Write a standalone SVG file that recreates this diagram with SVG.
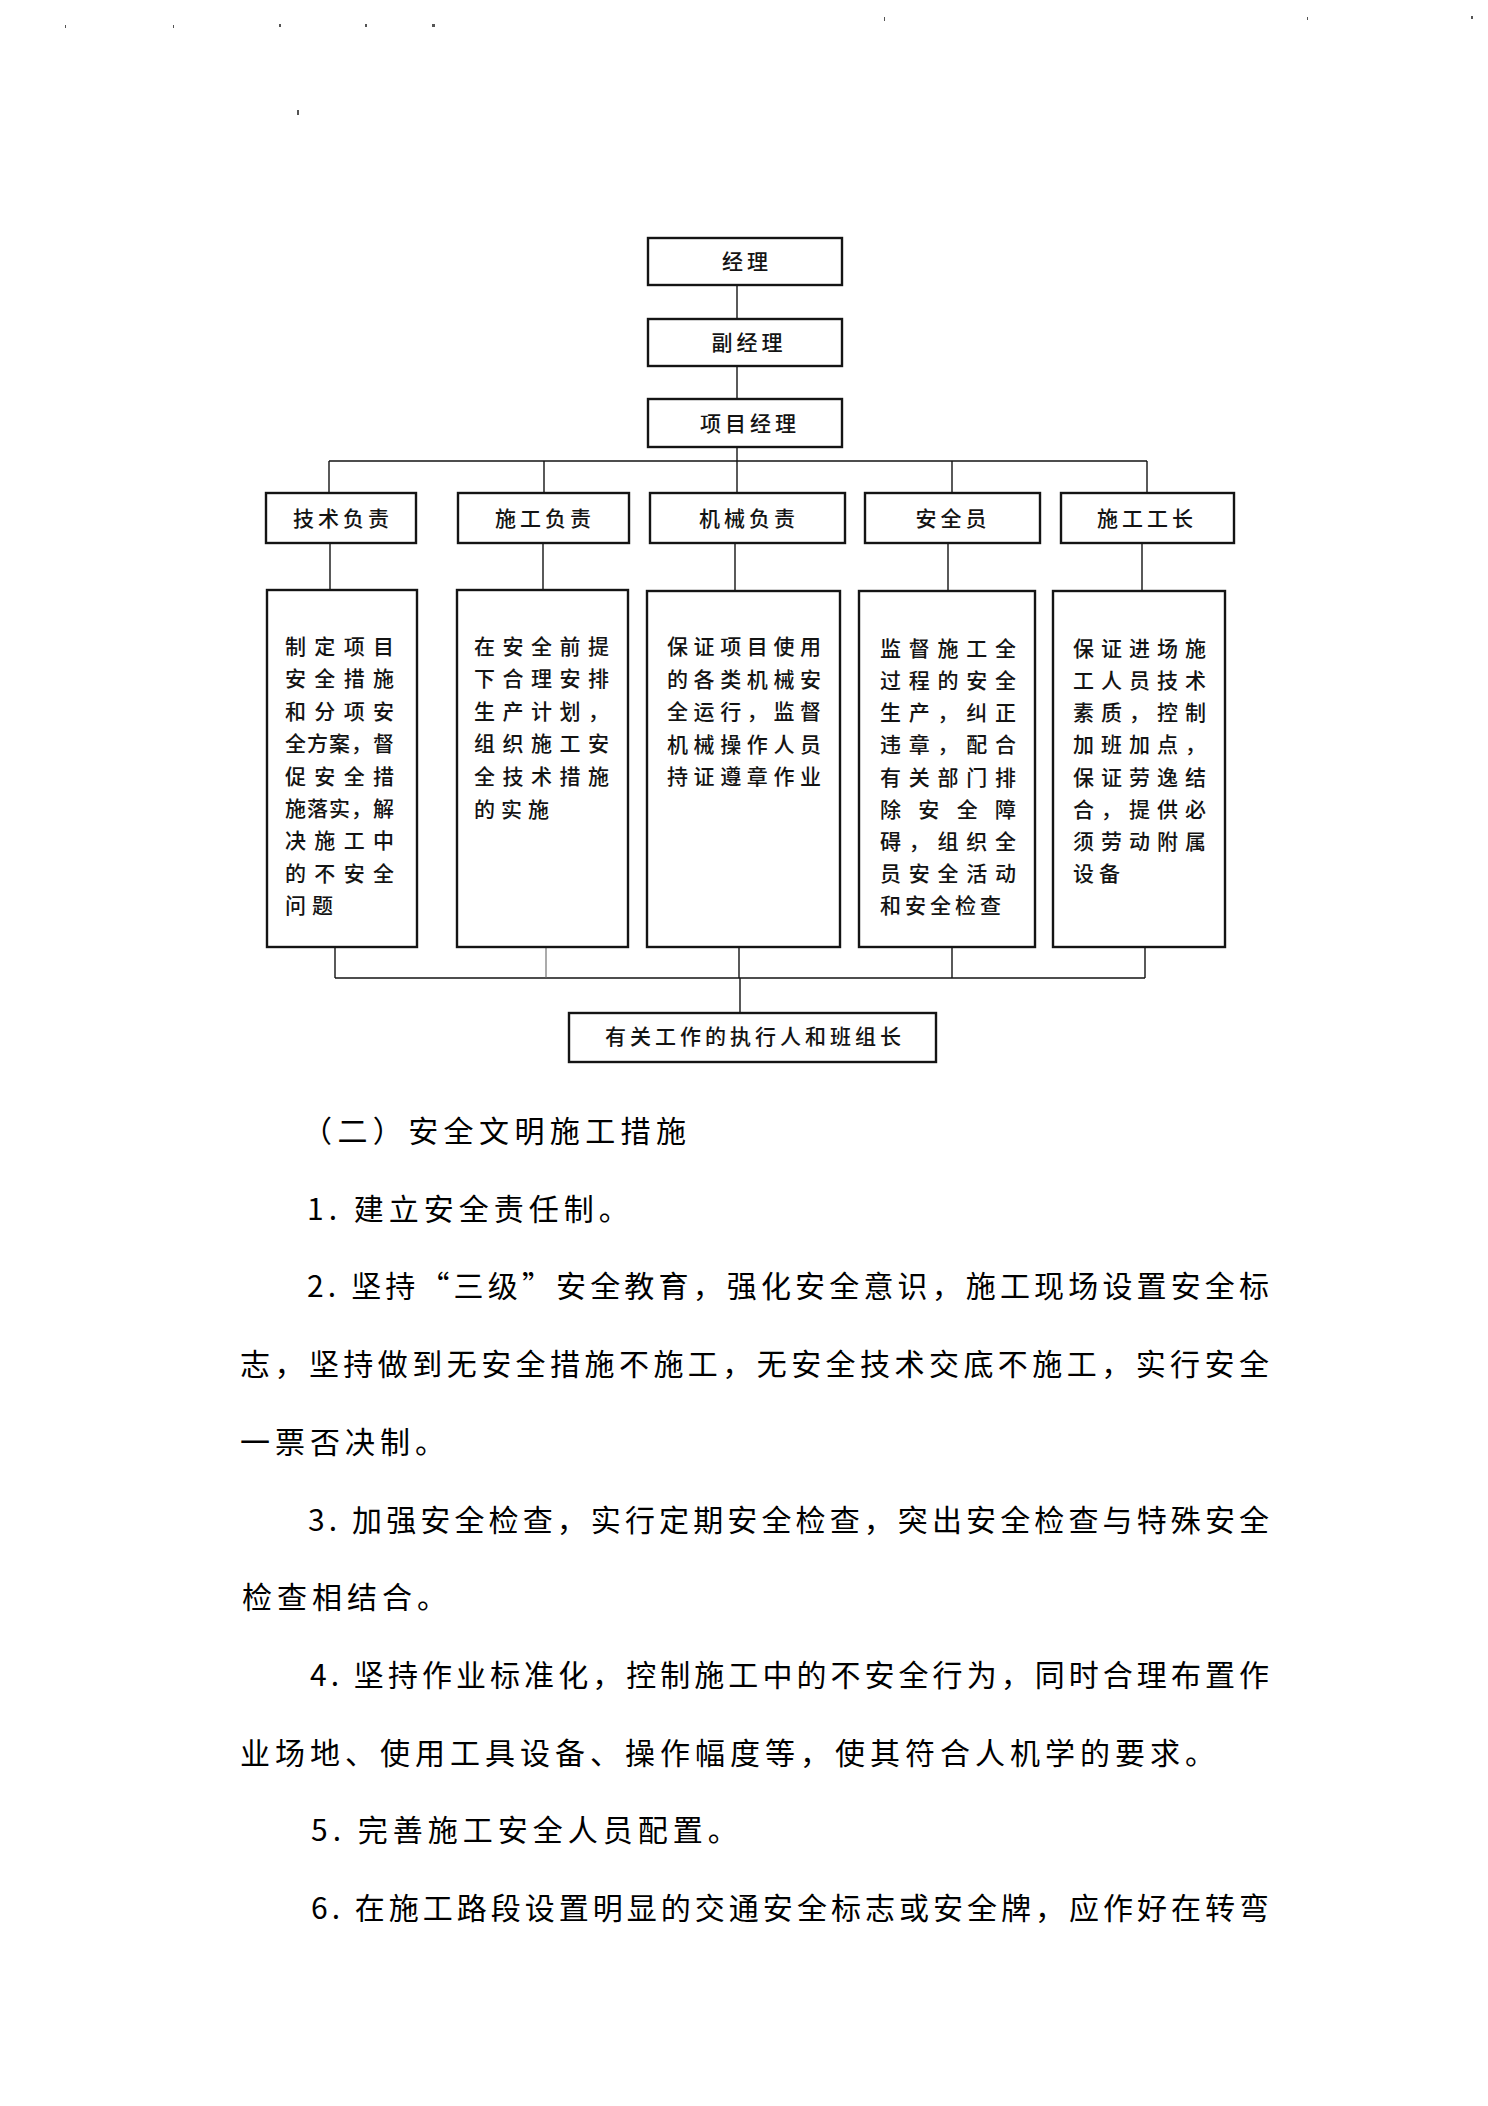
<svg xmlns="http://www.w3.org/2000/svg" width="1488" height="2106" viewBox="0 0 1488 2106">
<style>
.box{fill:#fff;stroke:#141414;stroke-width:2.4}
.conn{stroke:#141414;stroke-width:1.4;fill:none}
.faint{stroke:#666;stroke-width:1.1}
.lbl{font-family:"Noto Sans CJK SC","Noto Sans CJK JP",sans-serif;font-size:21px;font-weight:500;letter-spacing:4px;fill:#141414;text-anchor:middle}
.desc{font-family:"Noto Sans CJK SC","Noto Sans CJK JP",sans-serif;font-size:21px;font-weight:500;fill:#141414}
.body{font-family:"Noto Sans CJK SC","Noto Sans CJK JP",sans-serif;font-size:30px;fill:#000}
.nat{letter-spacing:5px}
.speck{fill:#555}
</style>
<rect width="1488" height="2106" fill="#fff"/>
<g id="scan-specks">
<rect class="speck" x="297" y="110" width="2" height="5"/>
<rect class="speck" x="65" y="25" width="1" height="3"/>
<rect class="speck" x="173" y="25" width="1" height="3"/>
<rect class="speck" x="279" y="24" width="2" height="3"/>
<rect class="speck" x="365" y="24" width="2" height="3"/>
<rect class="speck" x="432" y="24" width="3" height="3"/>
<rect class="speck" x="884" y="17" width="1" height="4"/>
<rect class="speck" x="1307" y="17" width="1" height="3"/>
<rect class="speck" x="1471" y="16" width="2" height="3"/>
</g>
<g id="connectors">
<path class="conn" d="M737 285V319M737 366V399M737 447V493M329 461H1147M329 461V493M544 461V493M952 461V493M1147 461V493"/>
<path class="conn" d="M330 543V590M543 543V590M735 543V590M948 543V590M1142 543V590"/>
<path class="conn" d="M335 947V978M739 947V978M952 947V978M1145 947V978M335 978H1145M740 978V1013"/>
<path class="conn faint" d="M546 947V978"/>
</g>
<g id="n-jingli"><rect class="box" x="648" y="238" width="194" height="47"/><text class="lbl" x="747" y="269">经理</text></g>
<g id="n-fujingli"><rect class="box" x="648" y="319" width="194" height="47"/><text class="lbl" x="749" y="350">副经理</text></g>
<g id="n-xiangmujingli"><rect class="box" x="648" y="399" width="194" height="48"/><text class="lbl" x="750" y="431">项目经理</text></g>
<g id="n-jishu"><rect class="box" x="266" y="493" width="150" height="50"/><text class="lbl" x="343" y="526">技术负责</text></g>
<g id="n-shigong"><rect class="box" x="458" y="493" width="171" height="50"/><text class="lbl" x="545" y="526">施工负责</text></g>
<g id="n-jixie"><rect class="box" x="650" y="493" width="195" height="50"/><text class="lbl" x="749" y="526">机械负责</text></g>
<g id="n-anquanyuan"><rect class="box" x="865" y="493" width="175" height="50"/><text class="lbl" x="953" y="526">安全员</text></g>
<g id="n-gongzhang"><rect class="box" x="1061" y="493" width="173" height="50"/><text class="lbl" x="1147" y="526">施工工长</text></g>
<g id="d-jishu"><rect class="box" x="267" y="590" width="150" height="357"/>
<text class="desc" x="285" y="654" textLength="109" lengthAdjust="spacing">制定项目</text>
<text class="desc" x="285" y="686" textLength="109" lengthAdjust="spacing">安全措施</text>
<text class="desc" x="285" y="719" textLength="109" lengthAdjust="spacing">和分项安</text>
<text class="desc" x="285" y="751" textLength="109" lengthAdjust="spacing">全方案，督</text>
<text class="desc" x="285" y="784" textLength="109" lengthAdjust="spacing">促安全措</text>
<text class="desc" x="285" y="816" textLength="109" lengthAdjust="spacing">施落实，解</text>
<text class="desc" x="285" y="848" textLength="109" lengthAdjust="spacing">决施工中</text>
<text class="desc" x="285" y="881" textLength="109" lengthAdjust="spacing">的不安全</text>
<text class="desc" x="285" y="913" style="letter-spacing:6px">问题</text>
</g>
<g id="d-shigong"><rect class="box" x="457" y="590" width="171" height="357"/>
<text class="desc" x="474" y="654" textLength="135" lengthAdjust="spacing">在安全前提</text>
<text class="desc" x="474" y="686" textLength="135" lengthAdjust="spacing">下合理安排</text>
<text class="desc" x="474" y="719" textLength="135" lengthAdjust="spacing">生产计划，</text>
<text class="desc" x="474" y="751" textLength="135" lengthAdjust="spacing">组织施工安</text>
<text class="desc" x="474" y="784" textLength="135" lengthAdjust="spacing">全技术措施</text>
<text class="desc" x="474" y="817" style="letter-spacing:6px">的实施</text>
</g>
<g id="d-jixie"><rect class="box" x="647" y="591" width="193" height="356"/>
<text class="desc" x="667" y="654" textLength="154" lengthAdjust="spacing">保证项目使用</text>
<text class="desc" x="667" y="687" textLength="154" lengthAdjust="spacing">的各类机械安</text>
<text class="desc" x="667" y="719" textLength="154" lengthAdjust="spacing">全运行，监督</text>
<text class="desc" x="667" y="752" textLength="154" lengthAdjust="spacing">机械操作人员</text>
<text class="desc" x="667" y="784" textLength="154" lengthAdjust="spacing">持证遵章作业</text>
</g>
<g id="d-anquanyuan"><rect class="box" x="859" y="591" width="176" height="356"/>
<text class="desc" x="880" y="656" textLength="136" lengthAdjust="spacing">监督施工全</text>
<text class="desc" x="880" y="688" textLength="136" lengthAdjust="spacing">过程的安全</text>
<text class="desc" x="880" y="720" textLength="136" lengthAdjust="spacing">生产，纠正</text>
<text class="desc" x="880" y="752" textLength="136" lengthAdjust="spacing">违章，配合</text>
<text class="desc" x="880" y="785" textLength="136" lengthAdjust="spacing">有关部门排</text>
<text class="desc" x="880" y="817" textLength="136" lengthAdjust="spacing">除安全障</text>
<text class="desc" x="880" y="849" textLength="136" lengthAdjust="spacing">碍，组织全</text>
<text class="desc" x="880" y="881" textLength="136" lengthAdjust="spacing">员安全活动</text>
<text class="desc" x="880" y="913" style="letter-spacing:4px">和安全检查</text>
</g>
<g id="d-gongzhang"><rect class="box" x="1053" y="591" width="172" height="356"/>
<text class="desc" x="1073" y="656" textLength="133" lengthAdjust="spacing">保证进场施</text>
<text class="desc" x="1073" y="688" textLength="133" lengthAdjust="spacing">工人员技术</text>
<text class="desc" x="1073" y="720" textLength="133" lengthAdjust="spacing">素质，控制</text>
<text class="desc" x="1073" y="752" textLength="133" lengthAdjust="spacing">加班加点，</text>
<text class="desc" x="1073" y="785" textLength="133" lengthAdjust="spacing">保证劳逸结</text>
<text class="desc" x="1073" y="817" textLength="133" lengthAdjust="spacing">合，提供必</text>
<text class="desc" x="1073" y="849" textLength="133" lengthAdjust="spacing">须劳动附属</text>
<text class="desc" x="1073" y="881" style="letter-spacing:5px">设备</text>
</g>
<g id="n-zhixingren"><rect class="box" x="569" y="1013" width="367" height="49"/><text class="lbl" x="755" y="1044">有关工作的执行人和班组长</text></g>
<g id="body-text">
<text class="body" x="302" y="1142" textLength="384" lengthAdjust="spacing">（二）安全文明施工措施</text>
<text class="body nat" x="307" y="1220">1. 建立安全责任制。</text>
<text class="body" x="307" y="1297" textLength="962" lengthAdjust="spacing">2. 坚持“三级”安全教育，强化安全意识，施工现场设置安全标</text>
<text class="body" x="240" y="1375" textLength="1029" lengthAdjust="spacing">志，坚持做到无安全措施不施工，无安全技术交底不施工，实行安全</text>
<text class="body nat" x="240" y="1453">一票否决制。</text>
<text class="body" x="308" y="1531" textLength="961" lengthAdjust="spacing">3. 加强安全检查，实行定期安全检查，突出安全检查与特殊安全</text>
<text class="body nat" x="242" y="1608">检查相结合。</text>
<text class="body" x="310" y="1686" textLength="959" lengthAdjust="spacing">4. 坚持作业标准化，控制施工中的不安全行为，同时合理布置作</text>
<text class="body nat" x="240" y="1764">业场地、使用工具设备、操作幅度等，使其符合人机学的要求。</text>
<text class="body nat" x="311" y="1841">5. 完善施工安全人员配置。</text>
<text class="body" x="311" y="1919" textLength="958" lengthAdjust="spacing">6. 在施工路段设置明显的交通安全标志或安全牌，应作好在转弯</text>
</g>
</svg>
